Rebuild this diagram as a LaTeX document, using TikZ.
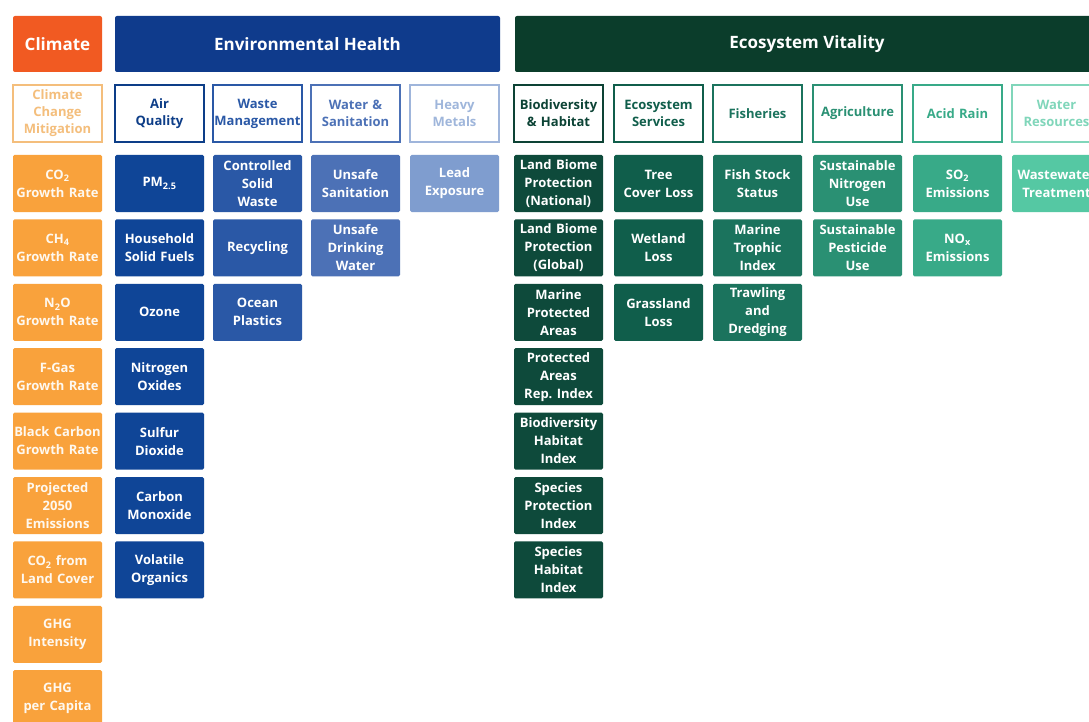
\documentclass[tikz,border=0pt]{standalone}
\usepackage{fontspec}
\setmainfont{Open Sans}
\usetikzlibrary{positioning}
\frenchspacing

% Colours
\definecolor{climhead}{HTML}{F15A22}
\definecolor{climbox}{HTML}{F9A23C}
\definecolor{climcat}{HTML}{F4BE7C}
\definecolor{envhead}{HTML}{0F3B8C}
\definecolor{airq}{HTML}{0F4597}
\definecolor{waste}{HTML}{2A58A6}
\definecolor{water}{HTML}{4C71B6}
\definecolor{metal}{HTML}{7F9DCF}
\definecolor{ecohead}{HTML}{0B3D2B}
\definecolor{biohab}{HTML}{0E4A3B}
\definecolor{ecoserv}{HTML}{105E4B}
\definecolor{fish}{HTML}{1B735D}
\definecolor{agri}{HTML}{2A9073}
\definecolor{acid}{HTML}{38AA88}
\definecolor{wres}{HTML}{55C8A3}

\tikzset{
  head/.style={fill=#1, rounded corners=2pt, minimum height=56pt, inner sep=0pt,
    text=white, font=\fontsize{17}{20}\selectfont\bfseries},
  cat/.style={draw=#1, line width=1.4pt, text=#1, fill=white, minimum width=89pt,
    minimum height=57pt, text width=88pt, align=center, inner sep=0pt,
    font=\fontsize{13}{17}\selectfont\bfseries},
  ind/.style={fill=#1, rounded corners=1.5pt, text=white, minimum width=89pt,
    minimum height=57pt, text width=89pt, align=center, inner sep=0pt,
    font=\fontsize{13}{18}\selectfont\bfseries},
}

\begin{document}
\begin{tikzpicture}[x=1pt, y=-1pt]
    \useasboundingbox (0,0) rectangle (1089,722);
    \clip (0,0) rectangle (1089,722);
    \fill[white] (0,0) rectangle (1089,722);

    % Headers
    \node[head=climhead, minimum width=89pt] (clim) at (57.5,44) {Climate};
    \node[head=envhead, minimum width=385pt] (envh) at (307.5,44) {Environmental Health};
    \node[head=ecohead, minimum width=584pt] (ecov) at (807,44) {Ecosystem Vitality};

    % Issue categories
    \node[cat=climcat] (ccm) at (57.5,113.5) {Climate\\Change\\Mitigation};
    \node[cat=airq!90!black] (aq) at (159.5,113.5) {Air\\Quality};
    \node[cat=waste] (wm) at (257.5,113.5) {Waste\\Management};
    \node[cat=water] (ws) at (355.5,113.5) {Water \&\\Sanitation};
    \node[cat=metal!75] (hm) at (454.5,113.5) {Heavy\\Metals};
    \node[cat=biohab!90!black] (bh) at (558.5,113.5) {Biodiversity\\\& Habitat};
    \node[cat=ecoserv] (es) at (658.5,113.5) {Ecosystem\\Services};
    \node[cat=fish] (fi) at (757.5,113.5) {Fisheries};
    \node[cat=agri] (ag) at (857.5,113.5) {Agriculture};
    \node[cat=acid] (ar) at (957.5,113.5) {Acid Rain};
    \node[cat=wres!75] (wr) at (1056.5,113.5) {Water\\Resources};

    % Climate indicators
    \foreach \txt [count=\i] in {CO\textsubscript{2}\\Growth Rate, CH\textsubscript{4}\\Growth Rate,
        N\textsubscript{2}O\\Growth Rate, F-Gas\\Growth Rate, Black Carbon\\Growth Rate,
        Projected\\2050\\Emissions, CO\textsubscript{2} from\\Land Cover, GHG\\Intensity, GHG\\per Capita}
        \node[ind=climbox, text=white!92!climbox] (ccm\i) at (57.5,{183.5+64.4*(\i-1)}) {\txt};

    % Environmental health indicators
    \foreach \txt [count=\i] in {PM\textsubscript{2.5}, Household\\Solid Fuels, Ozone, Nitrogen\\Oxides,
        Sulfur\\Dioxide, Carbon\\Monoxide, Volatile\\Organics}
        \node[ind=airq] (aq\i) at (159.5,{183.5+64.4*(\i-1)}) {\txt};
    \foreach \txt [count=\i] in {Controlled\\Solid\\Waste, Recycling, Ocean\\Plastics}
        \node[ind=waste] (wm\i) at (257.5,{183.5+64.4*(\i-1)}) {\txt};
    \foreach \txt [count=\i] in {Unsafe\\Sanitation, Unsafe\\Drinking\\Water}
        \node[ind=water] (ws\i) at (355.5,{183.5+64.4*(\i-1)}) {\txt};
    \node[ind=metal] (hm1) at (454.5,183.5) {Lead\\Exposure};

    % Ecosystem vitality indicators
    \foreach \txt [count=\i] in {Land Biome\\Protection\\(National), Land Biome\\Protection\\(Global),
        Marine\\Protected\\Areas, Protected\\Areas\\Rep. Index, Biodiversity\\Habitat\\Index,
        Species\\Protection\\Index, Species\\Habitat\\Index}
        \node[ind=biohab] (bh\i) at (558.5,{183.5+64.4*(\i-1)}) {\txt};
    \foreach \txt [count=\i] in {Tree\\Cover Loss, Wetland\\Loss, Grassland\\Loss}
        \node[ind=ecoserv] (es\i) at (658.5,{183.5+64.4*(\i-1)}) {\txt};
    \foreach \txt [count=\i] in {Fish Stock\\Status, Marine\\Trophic\\Index, Trawling\\and\\Dredging}
        \node[ind=fish] (fi\i) at (757.5,{183.5+64.4*(\i-1)}) {\txt};
    \foreach \txt [count=\i] in {Sustainable\\Nitrogen\\Use, Sustainable\\Pesticide\\Use}
        \node[ind=agri] (ag\i) at (857.5,{183.5+64.4*(\i-1)}) {\txt};
    \foreach \txt [count=\i] in {SO\textsubscript{2}\\Emissions, NO\textsubscript{x}\\Emissions}
        \node[ind=acid] (ar\i) at (957.5,{183.5+64.4*(\i-1)}) {\txt};
    \node[ind=wres] (wr1) at (1056.5,183.5) {Wastewater\\Treatment};
\end{tikzpicture}
\end{document}
